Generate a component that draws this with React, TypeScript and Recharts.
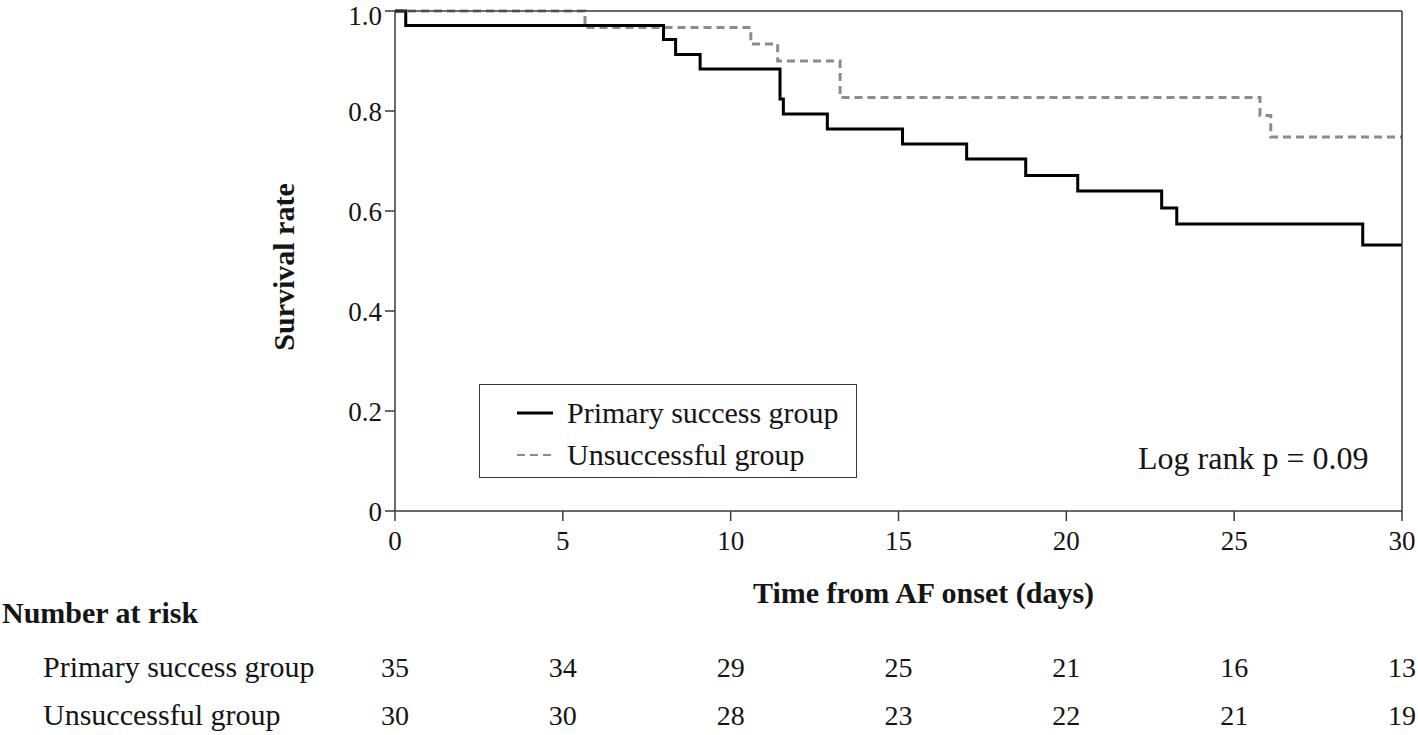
import React from "react";
import {
  LineChart,
  Line,
  XAxis,
  YAxis,
  Legend,
  ReferenceLine,
} from "recharts";

// Kaplan-Meier steps (time in days, survival)
const PRIMARY_TIMES = [0, 0.32, 8.0, 8.36, 9.09, 11.47, 11.57, 12.88, 15.12, 17.03, 18.79, 20.34, 22.84, 23.29, 28.83, 30];
const PRIMARY_SURV = [1, 0.971, 0.943, 0.913, 0.884, 0.824, 0.794, 0.764, 0.734, 0.704, 0.671, 0.64, 0.606, 0.574, 0.532, 0.532];

const UNSUCC_TIMES = [0, 5.66, 10.6, 11.4, 13.26, 25.77, 26.09, 30];
const UNSUCC_SURV = [1, 0.967, 0.934, 0.9, 0.827, 0.791, 0.748, 0.748];

const X_TICKS = [0, 5, 10, 15, 20, 25, 30];
const Y_TICKS = [0, 0.2, 0.4, 0.6, 0.8, 1];

// number at risk at each x tick
const RISK_PRIMARY = [35, 34, 29, 25, 21, 16, 13];
const RISK_UNSUCC = [30, 30, 28, 23, 22, 21, 19];

const primaryData = PRIMARY_TIMES.map((t, i) => ({ t, s: PRIMARY_SURV[i] }));
const unsuccData = UNSUCC_TIMES.map((t, i) => ({ t, s: UNSUCC_SURV[i] }));

const FONT = '"Liberation Serif", "Times New Roman", serif';
const AXIS_COLOR = "#3a3a3a";
const TEXT_COLOR = "#151515";

const fmtY = (v: number) => (v === 0 ? "0" : v.toFixed(1));

// x tick label plus the two number-at-risk rows underneath it
function XTick({ x, y, payload }: any) {
  const i = X_TICKS.indexOf(payload.value);
  return (
    <g fontFamily={FONT} fill={TEXT_COLOR} textAnchor="middle">
      <text x={x} y={y} dy="0.71em" fontSize={27}>
        {payload.value}
      </text>
      <text x={x} y={y + 146} fontSize={28}>
        {RISK_PRIMARY[i]}
      </text>
      <text x={x} y={y + 194} fontSize={28}>
        {RISK_UNSUCC[i]}
      </text>
    </g>
  );
}

function YTick({ x, y, payload }: any) {
  // keep the top label inside the page
  const shift = payload.value === 1 ? 4 : 0;
  return (
    <text x={x} y={y + shift} dy="0.355em" textAnchor="end" fontSize={27} fontFamily={FONT} fill={TEXT_COLOR}>
      {fmtY(payload.value)}
    </text>
  );
}

function LegendBox(props: any) {
  const items = props.payload || [];
  return (
    <div
      style={{
        width: 376,
        height: 92,
        border: `1.5px solid ${AXIS_COLOR}`,
        position: "relative",
        background: "white",
        fontFamily: FONT,
      }}
    >
      {items.map((item: any, i: number) => (
        <div key={item.value} style={{ position: "absolute", left: 0, top: 7 + i * 42, height: 42, width: "100%" }}>
          <svg width={80} height={42} style={{ position: "absolute", left: 0, top: 0 }}>
            <line
              x1={37}
              x2={73}
              y1={21}
              y2={21}
              stroke={item.color}
              strokeWidth={i === 0 ? 3 : 2}
              strokeDasharray={item.payload?.strokeDasharray}
            />
          </svg>
          <span
            style={{
              position: "absolute",
              left: 87,
              top: 0,
              lineHeight: "42px",
              fontSize: 30,
              color: TEXT_COLOR,
              whiteSpace: "nowrap",
            }}
          >
            {item.value}
          </span>
        </div>
      ))}
    </div>
  );
}

function BottomTexts(p: any) {
  const y0 = p.viewBox.y;
  return (
    <g fontFamily={FONT} fill={TEXT_COLOR} fontSize={30}>
      <text x={p.viewBox.x + p.viewBox.width / 2 + 25} y={y0 + 92} textAnchor="middle" fontWeight="bold">
        Time from AF onset (days)
      </text>
      <text x={2} y={y0 + 112} fontWeight="bold">
        Number at risk
      </text>
      <text x={43} y={y0 + 166}>
        Primary success group
      </text>
      <text x={43} y={y0 + 214}>
        Unsuccessful group
      </text>
    </g>
  );
}

export default function App() {
  return (
    <div style={{ width: 1418, height: 735, position: "relative", background: "white" }}>
      <style>{"body{margin:0}"}</style>
      <LineChart
        width={1418}
        height={735}
        margin={{ top: 11, right: 16, bottom: 0, left: 0 }}
        style={{ fontFamily: FONT }}
      >
        <XAxis
          dataKey="t"
          type="number"
          domain={[0, 30]}
          ticks={X_TICKS}
          allowDataOverflow
          height={224}
          tickSize={10}
          tickMargin={10}
          stroke={AXIS_COLOR}
          strokeWidth={1.5}
          tick={<XTick />}
          label={{ content: (p: any) => <BottomTexts {...p} /> }}
        />
        <YAxis
          type="number"
          domain={[0, 1]}
          ticks={Y_TICKS}
          width={395}
          tickSize={10}
          tickMargin={3}
          stroke={AXIS_COLOR}
          strokeWidth={1.5}
          tick={<YTick />}
          label={{
            content: () => (
              <text
                transform="translate(283,267) rotate(-90)"
                textAnchor="middle"
                dominantBaseline="central"
                fontSize={30}
                fontWeight="bold"
                fontFamily={FONT}
                fill={TEXT_COLOR}
              >
                Survival rate
              </text>
            ),
          }}
        />
        <Legend
          layout="vertical"
          align="center"
          verticalAlign="middle"
          wrapperStyle={{ left: 479, top: 384, width: 380, height: 96 }}
          content={(p: any) => <LegendBox {...p} />}
        />
        <Line
          data={unsuccData}
          dataKey="s"
          name="Unsuccessful group"
          type="stepAfter"
          stroke="#8c8c8c"
          strokeWidth={3}
          strokeDasharray="8 5"
          dot={false}
          isAnimationActive={false}
        />
        <Line
          data={primaryData}
          dataKey="s"
          name="Primary success group"
          type="stepAfter"
          stroke="#000"
          strokeWidth={3}
          dot={false}
          isAnimationActive={false}
        />
        <ReferenceLine y={1} stroke={AXIS_COLOR} strokeWidth={1.5} ifOverflow="visible" />
        <ReferenceLine x={30} stroke={AXIS_COLOR} strokeWidth={1.5} ifOverflow="visible" />
      </LineChart>
      <div
        style={{
          position: "absolute",
          left: 1138,
          top: 440,
          fontFamily: FONT,
          fontSize: 32,
          color: TEXT_COLOR,
          whiteSpace: "nowrap",
          lineHeight: "36px",
        }}
      >
        Log rank p = 0.09
      </div>
    </div>
  );
}
